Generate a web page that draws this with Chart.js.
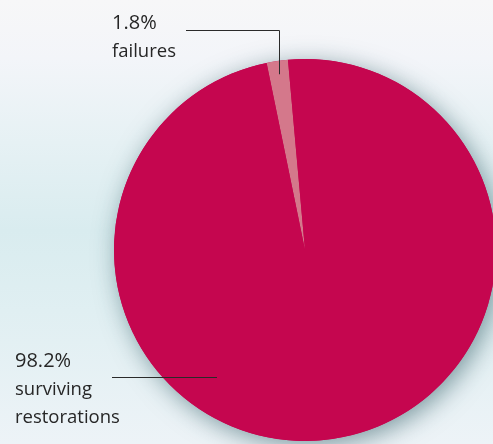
<!DOCTYPE html>
<html>
<head>
<meta charset="utf-8">
<script src="https://cdn.jsdelivr.net/npm/chart.js@4"></script>
<style>
  html, body {
    margin: 0;
    padding: 0;
    overflow: hidden;
    width: 493px;
    height: 444px;
  }
  body {
    background: linear-gradient(180deg, #f7f7f8 0%, #f3f5f9 13%, #e6f1f4 32%, #d9ecef 52%, #e0eff2 70%, #edf3f7 100%);
  }
  #wrap {
    position: absolute;
    left: 0;
    top: 0;
    width: 500px;
    height: 444px;
  }
</style>
</head>
<body>
<div id="wrap"><canvas id="myChart"></canvas></div>
<script>
const categories = ["failures", "surviving restorations"];
const values = [1.8, 98.2];
const labelLines = [["1.8%", "failures"], ["98.2%", "surviving", "restorations"]];
const sliceColors = ["#d4788b", "#c5064f"];

// soft shadow under the whole disc, drawn before the slices
const shadowPlugin = {
  id: "pieShadow",
  beforeDatasetsDraw: (chart) => {
    const arc = chart.getDatasetMeta(0).data[0];
    if (!arc) return;
    const ctx = chart.ctx;
    ctx.save();
    ctx.shadowColor = "rgba(35, 80, 90, 0.55)";
    ctx.shadowBlur = 24;
    ctx.shadowOffsetX = 4;
    ctx.shadowOffsetY = 5;
    ctx.fillStyle = sliceColors[1];
    ctx.beginPath();
    ctx.arc(arc.x, arc.y, arc.outerRadius, 0, Math.PI * 2);
    ctx.fill();
    ctx.restore();
  },
};

// callout labels with leader lines
const calloutPlugin = {
  id: "callouts",
  afterDraw: (chart) => {
    const ctx = chart.ctx;
    const small = chart.getDatasetMeta(0).data[0];
    if (!small) return;
    const mid = (small.startAngle + small.endAngle) / 2;
    const tipX = small.x + Math.cos(mid) * small.outerRadius * 0.93;
    const tipY = small.y + Math.sin(mid) * small.outerRadius * 0.93;

    ctx.save();
    ctx.strokeStyle = "#2a2a2a";
    ctx.lineWidth = 1;
    ctx.beginPath();
    ctx.moveTo(186, 30.5);
    ctx.lineTo(Math.round(tipX) + 0.5, 30.5);
    ctx.lineTo(Math.round(tipX) + 0.5, tipY);
    ctx.stroke();

    ctx.beginPath();
    ctx.moveTo(112, 377.5);
    ctx.lineTo(217, 377.5);
    ctx.stroke();

    ctx.fillStyle = "#262626";
    ctx.textAlign = "left";
    ctx.textBaseline = "alphabetic";
    const drawBlock = (lines, x, y) => {
      lines.forEach((t, i) => {
        ctx.font = i === 0 ? "20px 'Open Sans'" : "18.5px 'Open Sans'";
        ctx.fillText(t, x, y + i * 28);
      });
    };
    drawBlock(labelLines[0], 112, 29);
    drawBlock(labelLines[1], 15, 367);
    ctx.restore();
  },
};

const ctx = document.getElementById("myChart").getContext("2d");
const myChart = new Chart(ctx, {
  type: "pie",
  data: {
    labels: categories,
    datasets: [
      {
        data: values,
        backgroundColor: sliceColors,
        borderWidth: 0,
      },
    ],
  },
  options: {
    responsive: true,
    maintainAspectRatio: false,
    animation: false,
    rotation: -11.6,
    layout: {
      padding: { left: 114, right: 4, top: 59, bottom: 3 },
    },
    plugins: {
      legend: { display: false },
      tooltip: { enabled: false },
    },
  },
  plugins: [shadowPlugin, calloutPlugin],
});
</script>
</body>
</html>
